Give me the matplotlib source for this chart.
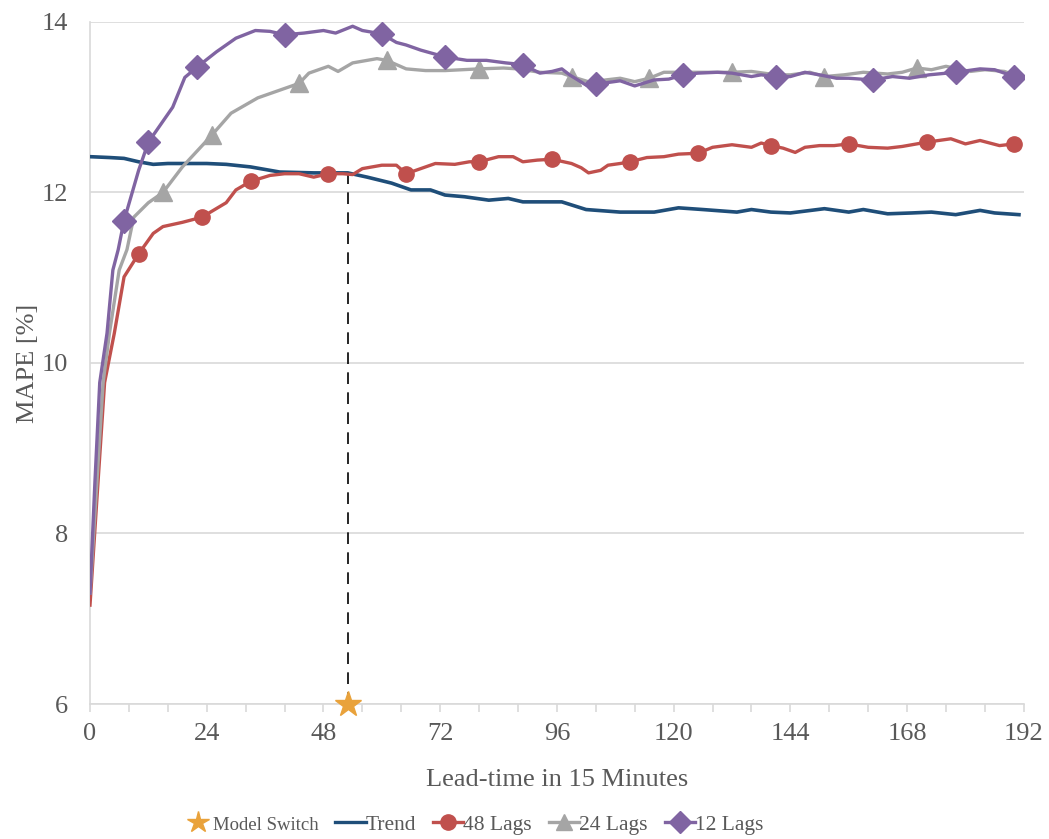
import matplotlib
matplotlib.use("Agg")
import matplotlib.pyplot as plt
from matplotlib.lines import Line2D
from matplotlib.ticker import MultipleLocator

plt.rcParams['font.family'] = ['Liberation Serif', 'DejaVu Serif']

# ---- data ----
trend_x = [0, 4, 7, 10, 13, 16, 20, 24, 28, 33, 39, 46, 53, 57, 62, 66, 70, 73, 77, 82, 86, 89, 92, 97,
           102, 109, 116, 121, 126, 133, 136, 140, 144, 151, 156, 159, 164, 169, 173, 178, 183, 186, 191]
trend_y = [12.42, 12.41, 12.40, 12.36, 12.33, 12.34, 12.34, 12.34, 12.33, 12.30, 12.24, 12.23, 12.23,
           12.18, 12.11, 12.03, 12.03, 11.97, 11.95, 11.91, 11.93, 11.89, 11.89, 11.89,
           11.80, 11.77, 11.77, 11.82, 11.80, 11.77, 11.80, 11.77, 11.76, 11.81, 11.77, 11.80,
           11.75, 11.76, 11.77, 11.74, 11.79, 11.76, 11.74]

lag48_x = [0, 1.4, 3, 5, 7, 10, 13, 15, 19, 23, 28, 30, 33, 37, 40, 43, 46, 49, 52, 54, 56, 60, 63, 65,
           68, 71, 75, 78, 80, 84, 87, 89, 92, 95, 99, 101, 102.5, 105, 106.5, 109, 111, 114.5, 118,
           121, 125, 128, 132, 136, 138, 140, 142.5, 145, 147, 150, 153, 156, 160, 164, 167, 172,
           177, 180, 183, 187, 190]
lag48_y = [7.16, 8.39, 9.77, 10.35, 11.01, 11.28, 11.52, 11.60, 11.65, 11.71, 11.88, 12.03, 12.13,
           12.20, 12.22, 12.22, 12.18, 12.22, 12.22, 12.21, 12.28, 12.32, 12.32, 12.22,
           12.28, 12.34, 12.33, 12.36, 12.36, 12.42, 12.42, 12.36, 12.38, 12.39, 12.34, 12.29,
           12.23, 12.26, 12.32, 12.34, 12.36, 12.41, 12.42, 12.45, 12.46, 12.53, 12.56, 12.53,
           12.58, 12.55, 12.52, 12.47, 12.53, 12.55, 12.55, 12.57, 12.53, 12.52, 12.54, 12.59,
           12.63, 12.57, 12.61, 12.55, 12.57]
lag48_marks = [10, 23, 33, 49, 65, 80, 95, 111, 125, 140, 156, 172, 190]

lag24_x = [0, 1.4, 2.7, 4, 6, 7.6, 9, 12, 15, 19, 25, 29, 34.5, 39, 43, 45, 49, 51, 54, 57, 59, 61,
           65, 69, 73, 80, 85, 88, 92.5, 97, 99, 103, 106, 109, 112, 115, 118, 122, 127, 132,
           136, 141, 144, 148, 151, 155, 159, 164, 167, 170, 173, 176, 181, 184, 188, 190]
lag24_y = [7.30, 8.59, 9.77, 10.35, 11.09, 11.33, 11.71, 11.88, 12.00, 12.30, 12.67, 12.93, 13.11,
           13.20, 13.28, 13.40, 13.48, 13.42, 13.52, 13.55, 13.57, 13.55,
           13.45, 13.43, 13.43, 13.45, 13.46, 13.45, 13.41, 13.40, 13.36, 13.29, 13.32, 13.34,
           13.30, 13.34, 13.41, 13.41, 13.41, 13.41, 13.42, 13.38, 13.38, 13.41, 13.36, 13.38,
           13.41, 13.39, 13.41, 13.46, 13.44, 13.48, 13.42, 13.44, 13.42, 13.38]
lag24_marks = [15, 25, 43, 61, 80, 99, 115, 132, 151, 170]

lag12_x = [0, 1, 2, 3.5, 4.7, 5.8, 7, 10, 12, 17, 19.5, 22, 26, 30, 34, 37, 40, 44, 48, 50.5, 54, 56,
           60, 63, 65, 68, 73, 77.5, 81.5, 85.5, 89, 92.5, 95, 97, 98.6, 102, 104, 109, 112, 116,
           119, 122, 125, 129, 132, 136, 138, 141, 144, 147, 150, 153.5, 156, 161, 165, 168.5,
           172.5, 178, 183, 186, 190]
lag12_y = [7.30, 8.59, 9.77, 10.35, 11.09, 11.33, 11.67, 12.26, 12.59, 13.00, 13.35, 13.47, 13.65,
           13.81, 13.90, 13.89, 13.85, 13.87, 13.90, 13.87, 13.95, 13.90,
           13.86, 13.76, 13.73, 13.67, 13.59, 13.55, 13.55, 13.52, 13.50, 13.40, 13.42, 13.45,
           13.38, 13.26, 13.27, 13.31, 13.25, 13.32, 13.33, 13.38, 13.40, 13.41, 13.40, 13.36,
           13.38, 13.36, 13.36, 13.41, 13.38, 13.34, 13.34, 13.32, 13.36, 13.34, 13.38, 13.41,
           13.45, 13.44, 13.36]
lag12_marks = [7, 12, 22, 40, 60, 73, 89, 104, 122, 141, 161, 178, 190]

switch_x = 53
switch_y = 12.23
y_min = 6

# ---- styling ----
c_trend = '#1f4e79'
c_48 = '#c0504d'
c_24 = '#a5a5a5'
c_12 = '#8064a2'
c_star = '#e9a23b'
grid_c = '#d9d9d9'
text_c = '#595959'

fig = plt.figure(figsize=(10.49, 8.39), dpi=100)
ax = fig.add_axes([0.0858, 0.1609, 0.8902, 0.8129])

lw = 2.4
ax.plot(trend_x, trend_y, color=c_trend, lw=lw + 0.2, zorder=3, label='Trend')
ax.plot(lag48_x, lag48_y, color=c_48, lw=lw, zorder=4, marker='o', ms=11,
        markevery=[lag48_x.index(m) for m in lag48_marks], label='48 Lags')
ax.plot(lag24_x, lag24_y, color=c_24, lw=lw, zorder=4, marker='^', ms=13,
        markevery=[lag24_x.index(m) for m in lag24_marks], label='24 Lags')
ax.plot(lag12_x, lag12_y, color=c_12, lw=lw, zorder=5, marker='D', ms=12,
        markevery=[lag12_x.index(m) for m in lag12_marks], label='12 Lags')

ax.plot([switch_x, switch_x], [y_min, switch_y], color='black', lw=1.2,
        dashes=(7, 5), zorder=2)
ax.plot([switch_x], [y_min], marker='*', color=c_star, ms=19, ls='none',
        clip_on=False, zorder=10)

ax.set_xlim(0, 192)
ax.set_ylim(6, 14)
ax.xaxis.set_major_locator(MultipleLocator(24))
ax.xaxis.set_minor_locator(MultipleLocator(8))
ax.yaxis.set_major_locator(MultipleLocator(2))
ax.grid(axis='y', color=grid_c, lw=1.2, zorder=0)
ax.set_axisbelow(True)
for s in ['top', 'right']:
    ax.spines[s].set_visible(False)
for s in ['left', 'bottom']:
    ax.spines[s].set_color(grid_c)
    ax.spines[s].set_linewidth(1.2)
ax.tick_params(axis='x', which='both', length=6, color=grid_c, width=1.2,
               labelsize=19, labelcolor=text_c, pad=8)
ax.tick_params(axis='y', length=0, labelsize=19, labelcolor=text_c, pad=16)
ax.set_xlabel('Lead-time in 15 Minutes', fontsize=19, color=text_c, labelpad=17)
ax.set_ylabel('MAPE [%]', fontsize=19, color=text_c, labelpad=2)

handles = [
    Line2D([], [], marker='*', color=c_star, ms=16, ls='none'),
    Line2D([], [], color=c_trend, lw=lw),
    Line2D([], [], color=c_48, lw=lw, marker='o', ms=11),
    Line2D([], [], color=c_24, lw=lw, marker='^', ms=12),
    Line2D([], [], color=c_12, lw=lw, marker='D', ms=11),
]
labels = ['Model Switch', 'Trend', '48 Lags', '24 Lags', '12 Lags']
leg = fig.legend(handles, labels, loc='center', bbox_to_anchor=(0.451, 0.0167), ncol=5,
                 frameon=False, fontsize=15.5, handlelength=1.4, handletextpad=0.0,
                 columnspacing=0.8, labelcolor=text_c)
leg.get_texts()[0].set_fontsize(13.5)

fig.savefig('out.png', dpi=100)
